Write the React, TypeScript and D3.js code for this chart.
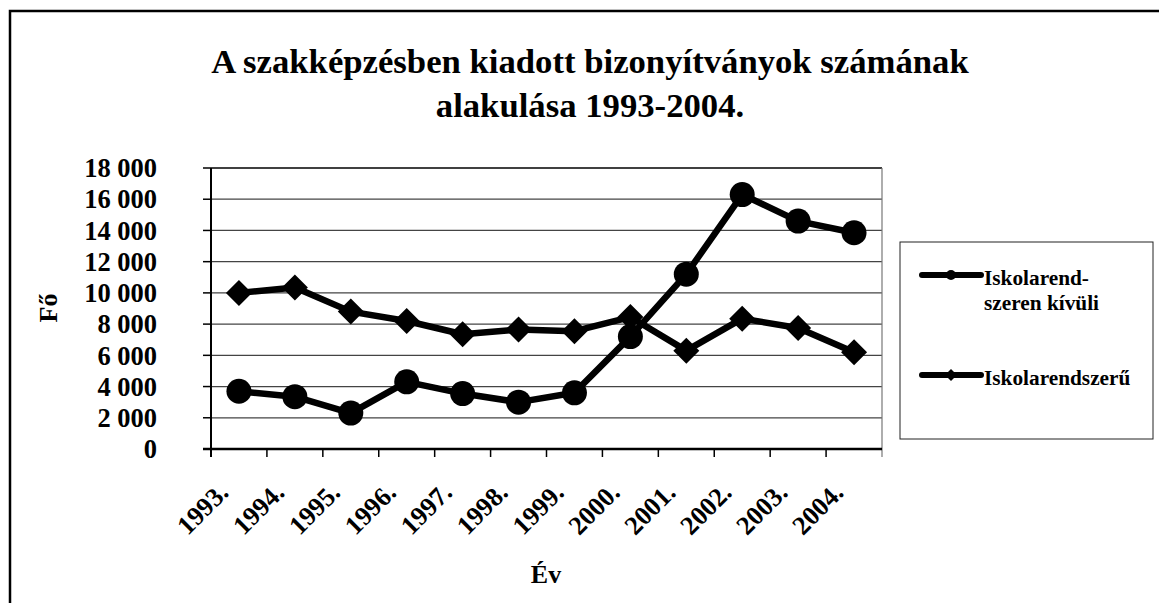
import React from "react";
import * as d3 from "d3";

const years = ["1993.", "1994.", "1995.", "1996.", "1997.", "1998.", "1999.", "2000.", "2001.", "2002.", "2003.", "2004."];
const kivuli = [3700, 3350, 2300, 4300, 3550, 3000, 3600, 7200, 11200, 16300, 14600, 13850];
const rendszeru = [10000, 10350, 8800, 8200, 7350, 7650, 7550, 8450, 6300, 8350, 7750, 6200];
const yTicks = [0, 2000, 4000, 6000, 8000, 10000, 12000, 14000, 16000, 18000];
const titleLines = ["A szakképzésben kiadott bizonyítványok számának", "alakulása 1993-2004."];
const legendKivuli = ["Iskolarend-", "szeren kívüli"];
const legendRendszeru = "Iskolarendszerű";

const W = 1159;
const H = 603;
const FONT = "'Liberation Serif', 'Times New Roman', serif";

export default function App() {
  const x = d3.scaleBand<string>().domain(years).range([211, 882]);
  const y = d3.scaleLinear().domain([0, 18000]).range([449, 168]);
  const cx = (d: string) => (x(d) as number) + x.bandwidth() / 2;
  const line = d3.line<number>().x((_, i) => cx(years[i])).y((v) => y(v));
  const fmt = (v: number) => d3.format(",")(v).replace(/,/g, " ");
  const diamond = (px: number, py: number, r: number) =>
    `M${px},${py - r}L${px + r},${py}L${px},${py + r}L${px - r},${py}Z`;
  const [x0, x1] = x.range();

  return (
    <svg width={W} height={H} style={{ position: "absolute", left: 0, top: 0 }} fontFamily={FONT} fontWeight="bold">
      <rect x={0} y={0} width={W} height={H} fill="#fff" />
      <rect x={10} y={11} width={W + 20} height={H + 20} fill="none" stroke="#000" strokeWidth={2.5} />
      {titleLines.map((t, i) => (
        <text key={i} x={590} y={73 + i * 44} textAnchor="middle" fontSize={34.7}>{t}</text>
      ))}
      {/* gridlines */}
      {yTicks.filter((v) => v > 0).map((v) => (
        <line key={v} x1={x0} x2={x1} y1={y(v)} y2={y(v)} stroke={v === 18000 ? "#000" : "#444"} strokeWidth={v === 18000 ? 1.5 : 1.2} />
      ))}
      <line x1={x1} x2={x1} y1={y(18000)} y2={y(0) + 8} stroke="#777" strokeWidth={1.2} />
      {/* y axis */}
      <line x1={x0} x2={x0} y1={y(18000)} y2={y(0) + 8} stroke="#000" strokeWidth={2} />
      {yTicks.map((v) => (
        <g key={v}>
          <line x1={x0 - 8} x2={x0} y1={y(v)} y2={y(v)} stroke="#000" strokeWidth={1.5} />
          <text x={157} y={y(v)} dy="0.35em" textAnchor="end" fontSize={26.5}>{fmt(v)}</text>
        </g>
      ))}
      {/* x axis */}
      <line x1={x0 - 8} x2={x1} y1={y(0)} y2={y(0)} stroke="#000" strokeWidth={2.5} />
      {years.map((d) => (
        <line key={"t" + d} x1={x(d) as number} x2={x(d) as number} y1={y(0)} y2={y(0) + 8} stroke="#000" strokeWidth={1.5} />
      ))}
      {years.map((d) => (
        <text key={"l" + d} transform={`translate(${cx(d) - 9},${494}) rotate(-45)`} textAnchor="end" fontSize={26.5}>{d}</text>
      ))}
      <text x={546} y={583} textAnchor="middle" fontSize={26}>Év</text>
      <text transform={`translate(57,308) rotate(-90)`} textAnchor="middle" fontSize={26}>Fő</text>
      {/* series */}
      <path d={line(rendszeru) as string} fill="none" stroke="#000" strokeWidth={6.5} strokeLinejoin="round" />
      {rendszeru.map((v, i) => (
        <path key={"d" + i} d={diamond(cx(years[i]), y(v), 13)} fill="#000" />
      ))}
      <path d={line(kivuli) as string} fill="none" stroke="#000" strokeWidth={6.5} strokeLinejoin="round" />
      {kivuli.map((v, i) => (
        <circle key={"c" + i} cx={cx(years[i])} cy={y(v)} r={12.5} fill="#000" />
      ))}
      {/* legend */}
      <rect x={900} y={242} width={253} height={197} fill="#fff" stroke="#222" strokeWidth={1} />
      <line x1={922} x2={981} y1={275} y2={275} stroke="#000" strokeWidth={6} strokeLinecap="round" />
      <circle cx={951} cy={275} r={5} fill="#000" />
      {legendKivuli.map((t, i) => (
        <text key={t} x={984} y={285 + i * 25} fontSize={21.3}>{t}</text>
      ))}
      <line x1={922} x2={981} y1={375} y2={375} stroke="#000" strokeWidth={6} strokeLinecap="round" />
      <path d={diamond(951, 375, 6)} fill="#000" />
      <text x={984} y={385} fontSize={21.3}>{legendRendszeru}</text>
    </svg>
  );
}
